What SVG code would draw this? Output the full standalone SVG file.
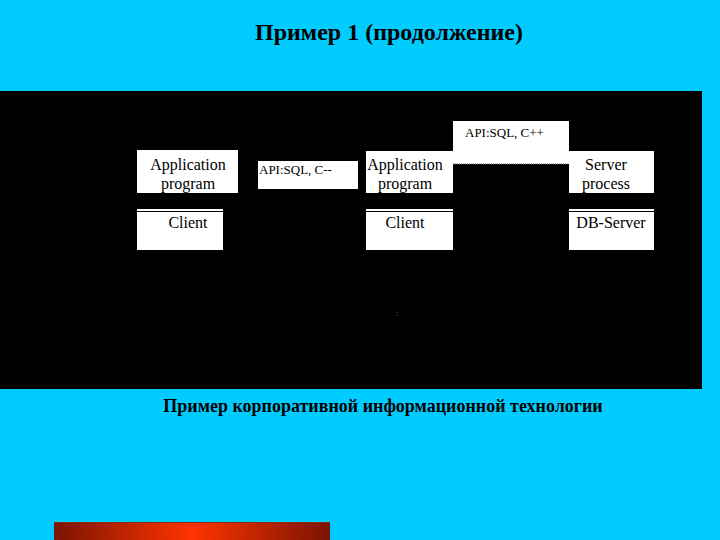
<svg xmlns="http://www.w3.org/2000/svg" width="720" height="540" viewBox="0 0 720 540">
<defs>
<linearGradient id="bar" x1="0" y1="0" x2="1" y2="0">
<stop offset="0" stop-color="#7a1400"/>
<stop offset="0.5" stop-color="#ff3300"/>
<stop offset="1" stop-color="#7a1400"/>
</linearGradient>
<style>
.box{fill:#ffffff;}
.t{font-family:"Liberation Serif","Times New Roman",serif;font-size:16px;fill:#000;text-anchor:middle;}
.api{font-family:"Liberation Serif","Times New Roman",serif;font-size:13px;fill:#000;}
.head{font-family:"Liberation Serif","Times New Roman",serif;font-weight:bold;fill:#000;text-anchor:middle;}
</style>
</defs>
<rect x="0" y="0" width="720" height="540" fill="#00ccff"/>
<text class="head" x="389" y="40" font-size="24">Пример 1 (продолжение)</text>
<rect x="0" y="91" width="702" height="298" fill="#000"/>
<g id="connectors"></g>
<g id="app1">
<rect class="box" x="137" y="150" width="101" height="43"/>
<text class="t" x="188" y="170">Application</text>
<text class="t" x="188" y="189">program</text>
</g>
<g id="client1">
<rect class="box" x="137" y="209" width="86" height="41"/>
<line x1="137" y1="211.5" x2="223" y2="211.5" stroke="#000" stroke-width="1"/>
<text class="t" x="188" y="228">Client</text>
</g>
<g id="api1">
<rect class="box" x="258" y="161" width="100" height="28"/>
<text class="api" x="259" y="174">API:SQL, C--</text>
</g>
<g id="app2">
<rect class="box" x="366" y="151" width="87" height="42"/>
<text class="t" x="405" y="170">Application</text>
<text class="t" x="405" y="189">program</text>
</g>
<g id="api2">
<rect class="box" x="453" y="121" width="116" height="43"/>
<line x1="453" y1="164" x2="569" y2="164" stroke="#555" stroke-width="1" stroke-dasharray="1,1"/>
<text class="api" x="465" y="137">API:SQL, C++</text>
</g>
<g id="client2">
<rect class="box" x="366" y="209" width="87" height="41"/>
<line x1="366" y1="211.5" x2="453" y2="211.5" stroke="#000" stroke-width="1"/>
<text class="t" x="405" y="228">Client</text>
</g>
<g id="server">
<rect class="box" x="569" y="151" width="85" height="42"/>
<text class="t" x="606" y="170">Server</text>
<text class="t" x="606" y="189">process</text>
</g>
<g id="dbserver">
<rect class="box" x="569" y="209" width="85" height="41"/>
<line x1="569" y1="211.5" x2="654" y2="211.5" stroke="#000" stroke-width="1"/>
<text class="t" x="611" y="228">DB-Server</text>
</g>
<text x="397" y="316" font-family="Liberation Serif, serif" font-size="9" fill="#666" text-anchor="middle">:</text>
<text class="head" x="383" y="412" font-size="18">Пример корпоративной информационной технологии</text>
<rect x="54" y="522" width="276" height="18" fill="url(#bar)"/>
<line x1="54" y1="522.5" x2="330" y2="522.5" stroke="#8a2a10" stroke-width="1"/>
</svg>
